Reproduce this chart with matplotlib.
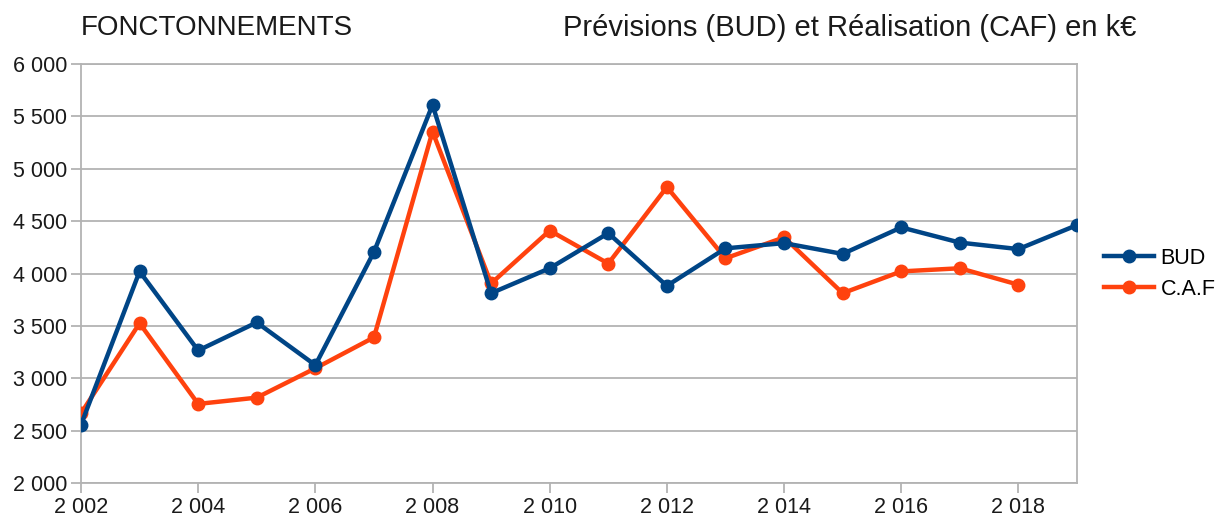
import matplotlib
matplotlib.use("Agg")
import matplotlib.pyplot as plt
from matplotlib.ticker import FuncFormatter, MultipleLocator

plt.rcParams["font.family"] = ["Liberation Sans", "DejaVu Sans"]

years = list(range(2002, 2020))
bud = [2556, 4020, 3265, 3533, 3125, 4205, 5610, 3812, 4050, 4385,
       3882, 4240, 4290, 4187, 4440, 4295, 4233, 4462]
caf_years = list(range(2002, 2019))
caf = [2665, 3525, 2755, 2815, 3095, 3390, 5355, 3905, 4410, 4095,
       4825, 4145, 4345, 3812, 4020, 4050, 3893]

BLUE = "#004586"
ORANGE = "#ff420e"
GRID = "#b3b3b3"


def spaced(v, pos):
    return f"{int(round(v)):,}".replace(",", " ")


fig = plt.figure(figsize=(12.18, 5.2), dpi=100)
ax = fig.add_axes([81 / 1218, 37 / 520, 996 / 1218, 419 / 520])

ax.plot(caf_years, caf, "-o", color=ORANGE, lw=3.2, ms=9, label="C.A.F", zorder=3)
ax.plot(years, bud, "-o", color=BLUE, lw=3.2, ms=9, label="BUD", zorder=4)

ax.set_xlim(2002, 2019)
ax.set_ylim(2000, 6000)
ax.xaxis.set_major_locator(MultipleLocator(2))
ax.yaxis.set_major_locator(MultipleLocator(500))
ax.xaxis.set_major_formatter(FuncFormatter(spaced))
ax.yaxis.set_major_formatter(FuncFormatter(spaced))
ax.grid(axis="y", color=GRID, lw=1.3)
ax.set_axisbelow(True)
for s in ax.spines.values():
    s.set_color(GRID)
    s.set_linewidth(1.3)
ax.tick_params(length=7, width=1.3, color=GRID, labelsize=15.5, pad=3,
               labelcolor="#1a1a1a")

handles, labels = ax.get_legend_handles_labels()
ax.legend(handles[::-1], labels[::-1], loc="upper left",
          bbox_to_anchor=(1104 / 1218, 1 - 248 / 520),
          bbox_transform=fig.transFigure, frameon=False, fontsize=15.5,
          borderpad=0, borderaxespad=0, handlelength=2.3,
          handletextpad=0.33, labelspacing=0.45)

fig.text(81 / 1218, 1 - 28 / 520, "FONCTONNEMENTS", fontsize=20,
         va="center", ha="left", color="#1a1a1a")
fig.text(1136 / 1218, 1 - 28 / 520, "Prévisions (BUD) et Réalisation (CAF) en k€",
         fontsize=21, va="center", ha="right", color="#1a1a1a")

fig.savefig("out.png", dpi=100)
